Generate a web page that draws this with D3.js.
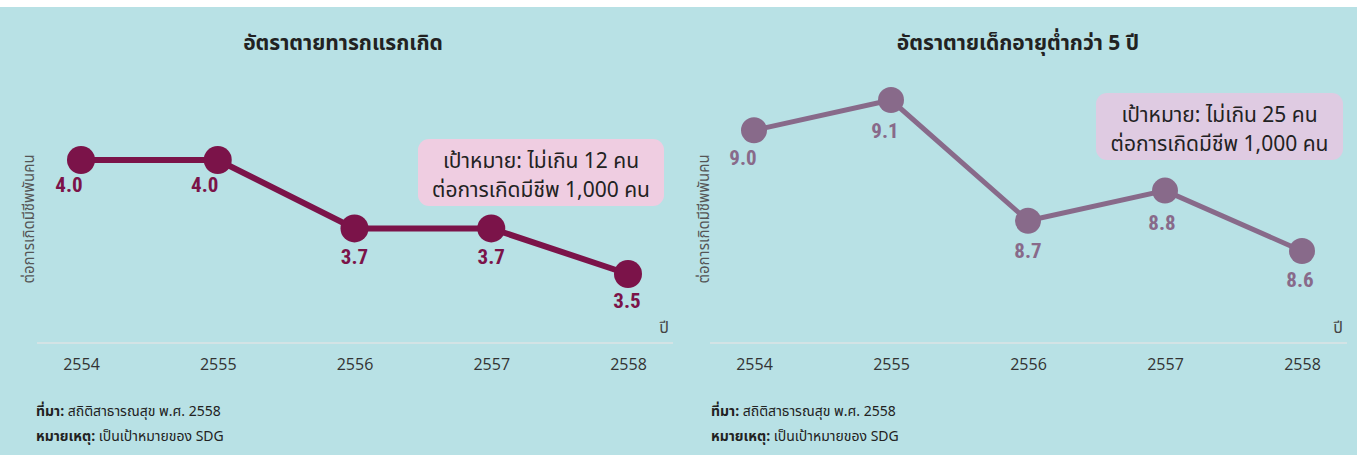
<!DOCTYPE html>
<html>
<head>
<meta charset="utf-8">
<script src="https://cdn.jsdelivr.net/npm/d3@7"></script>
<style>
    body { margin: 0; background: #ffffff; }
    svg { display: block; }
    text { font-family: "Noto Sans Thai", "Noto Sans", "DejaVu Sans", sans-serif; }
</style>
</head>
<body>
<div id="chart"></div>
<script>
const years = ['2554', '2555', '2556', '2557', '2558'];
const infantRates = [4.0, 4.0, 3.7, 3.7, 3.5];
const under5Rates = [9.0, 9.1, 8.7, 8.8, 8.6];
const titles = ['อัตราตายทารกแรกเกิด', 'อัตราตายเด็กอายุต่ำกว่า 5 ปี'];
const targetLines = [
    ['เป้าหมาย: ไม่เกิน 12 คน', 'ต่อการเกิดมีชีพ 1,000 คน'],
    ['เป้าหมาย: ไม่เกิน 25 คน', 'ต่อการเกิดมีชีพ 1,000 คน']
];
const yLabel = 'ต่อการเกิดมีชีพพันคน';
const xUnit = 'ปี';

const width = 1357;
const height = 455;

const svg = d3.select('#chart')
    .append('svg')
    .attr('width', width)
    .attr('height', height);

svg.append('rect')
    .attr('x', 0).attr('y', 7)
    .attr('width', width).attr('height', height - 7)
    .attr('fill', '#b8e1e5');

// one panel per chart
const panels = [
    {
        values: infantRates, title: titles[0], target: targetLines[0],
        x0: 0, xRange: [81, 628], yDomain: [3.5, 4.0], yRange: [274, 160],
        color: '#7b1349', lineW: 6, r: 14,
        box: { x: 418, y: 139, w: 246, h: 67 },
        boxFill: '#efcde1',
        labelDx: [-12, -13, 0, 0, -1],
        labelDy: [25, 25, 29, 29, 27]
    },
    {
        values: under5Rates, title: titles[1], target: targetLines[1],
        x0: 675, xRange: [754, 1302], yDomain: [8.6, 9.1], yRange: [251, 100],
        color: '#886a8a', lineW: 5, r: 13,
        box: { x: 1096, y: 93, w: 247, h: 67 },
        boxFill: '#dfcbe2',
        labelDx: [-11, -6, 0, -3, -2],
        labelDy: [28, 31, 30, 32, 29]
    }
];

panels.forEach(p => {
    const g = svg.append('g');

    const x = d3.scalePoint().domain(years).range(p.xRange);
    const y = d3.scaleLinear().domain(p.yDomain).range(p.yRange);

    g.append('text')
        .attr('x', p.x0 + 343)
        .attr('y', 50)
        .attr('text-anchor', 'middle')
        .attr('font-size', '21px')
        .attr('font-weight', 'bold')
        .attr('fill', '#222')
        .text(p.title);

    // y axis label (rotated)
    g.append('text')
        .attr('transform', `translate(${p.x0 + 34},219) rotate(-90)`)
        .attr('text-anchor', 'middle')
        .attr('font-size', '15px')
        .attr('fill', '#555')
        .text(yLabel);

    // x axis
    const axis = g.append('g')
        .attr('transform', 'translate(0,343)')
        .call(d3.axisBottom(x).tickSize(0).tickPadding(16));
    axis.select('.domain').remove();
    axis.append('line')
        .attr('x1', p.xRange[0] - 44).attr('x2', p.xRange[1] + 45)
        .attr('stroke', '#d3e3e5').attr('stroke-width', 2);
    axis.selectAll('text')
        .attr('font-size', '16px')
        .attr('fill', '#333')
        .style('font-family', '"Open Sans", sans-serif');

    g.append('text')
        .attr('x', p.xRange[1] + 36)
        .attr('y', 333)
        .attr('text-anchor', 'middle')
        .attr('font-size', '16px')
        .attr('fill', '#444')
        .text(xUnit);

    // target box
    g.append('rect')
        .attr('x', p.box.x).attr('y', p.box.y)
        .attr('width', p.box.w).attr('height', p.box.h)
        .attr('rx', 11)
        .attr('fill', p.boxFill);
    g.selectAll('.target')
        .data(p.target)
        .enter().append('text')
        .attr('x', p.box.x + p.box.w / 2)
        .attr('y', (d, i) => p.box.y + 29 + i * 29)
        .attr('text-anchor', 'middle')
        .attr('font-size', '21px')
        .attr('fill', '#222')
        .text(d => d);

    const line = d3.line()
        .x((d, i) => x(years[i]))
        .y(d => y(d));

    g.append('path')
        .datum(p.values)
        .attr('d', line)
        .attr('fill', 'none')
        .attr('stroke', p.color)
        .attr('stroke-width', p.lineW);

    g.selectAll('circle')
        .data(p.values)
        .enter().append('circle')
        .attr('cx', (d, i) => x(years[i]))
        .attr('cy', d => y(d))
        .attr('r', p.r)
        .attr('fill', p.color);

    g.selectAll('.val')
        .data(p.values)
        .enter().append('text')
        .attr('x', (d, i) => x(years[i]) + p.labelDx[i])
        .attr('y', (d, i) => y(d) + p.labelDy[i] + 7)
        .attr('text-anchor', 'middle')
        .attr('font-size', '21px')
        .attr('font-weight', 'bold')
        .attr('fill', p.color)
        .style('font-family', '"Liberation Sans Narrow", "Roboto Condensed", "Open Sans", sans-serif')
        .text(d => d.toFixed(1));

    // footnotes
    const notes = [['ที่มา:', ' สถิติสาธารณสุข พ.ศ. 2558'], ['หมายเหตุ:', ' เป็นเป้าหมายของ SDG']];
    notes.forEach((n, i) => {
        const t = g.append('text')
            .attr('x', p.x0 + 36)
            .attr('y', 416 + i * 25)
            .attr('font-size', '14px')
            .attr('fill', '#222');
        t.append('tspan').attr('font-weight', 'bold').text(n[0]);
        t.append('tspan').text(n[1]);
    });
});
</script>
</body>
</html>
